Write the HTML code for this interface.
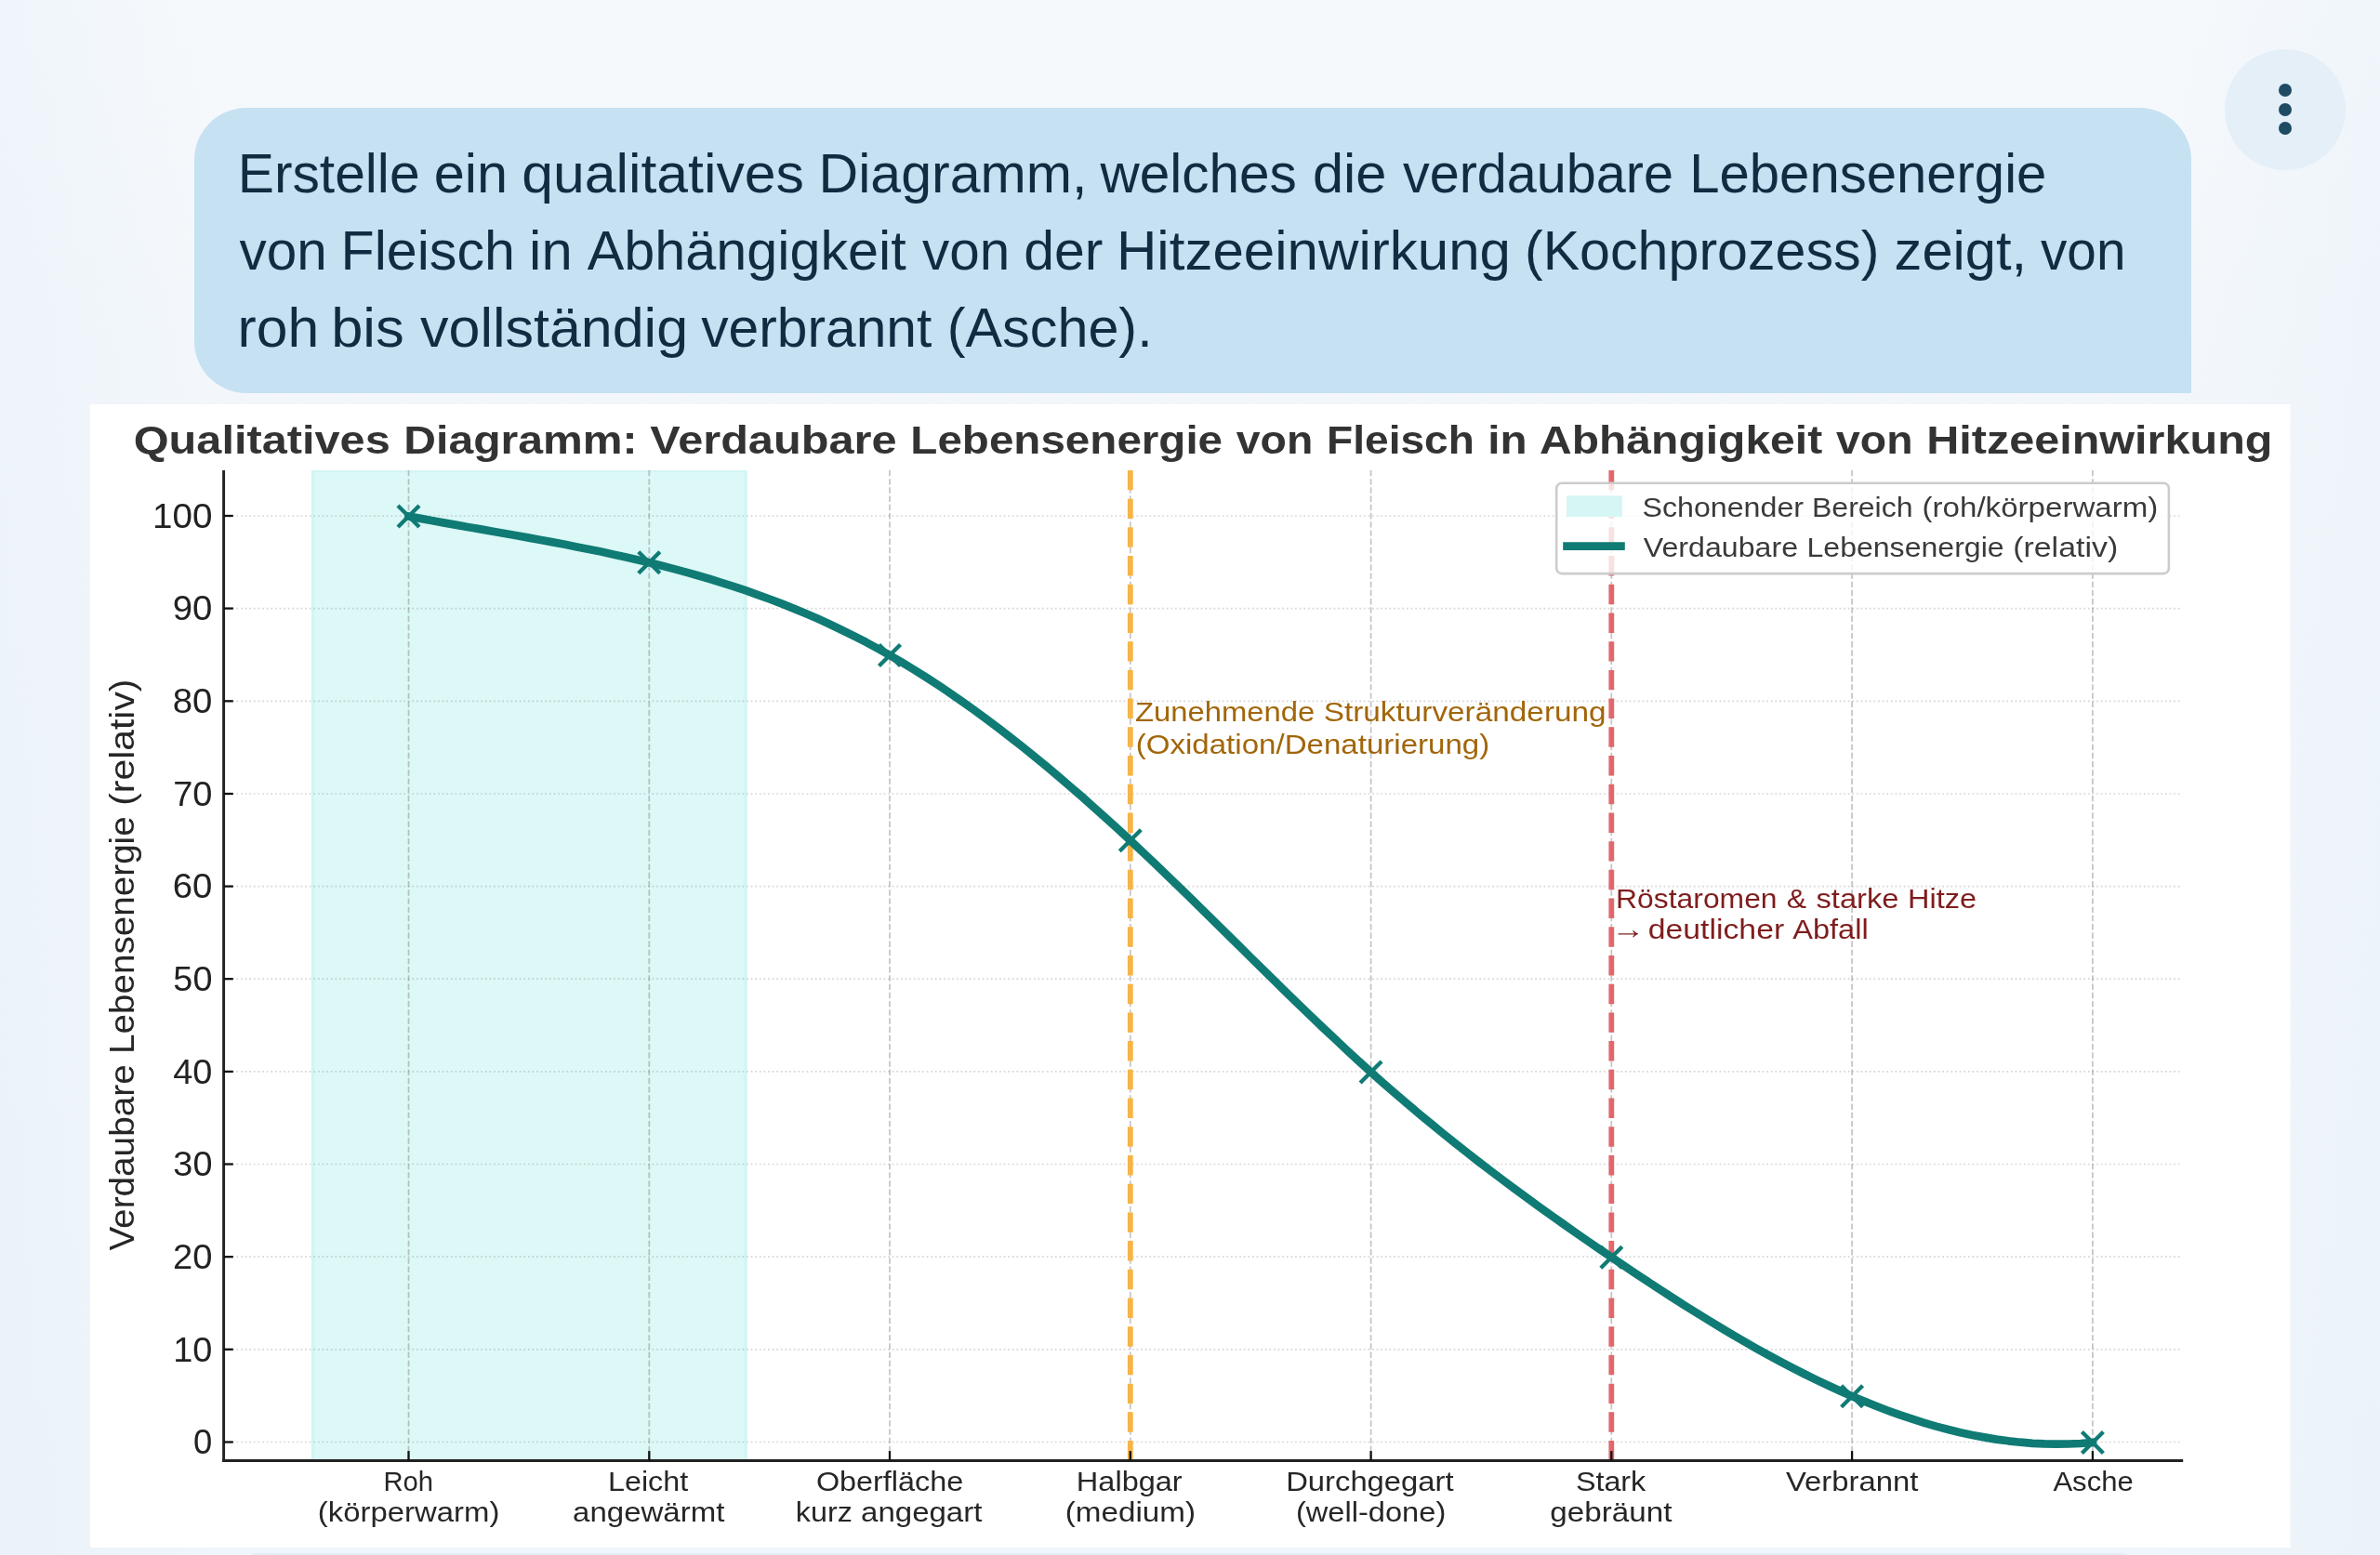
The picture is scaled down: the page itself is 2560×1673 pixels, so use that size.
<!DOCTYPE html>
<html lang="de">
<head>
<meta charset="utf-8">
<title>Chat – Qualitatives Diagramm</title>
<style>
html,body{margin:0;padding:0;}
body{width:2560px;height:1673px;overflow:hidden;position:relative;font-family:"Liberation Sans",sans-serif;
background:#f4f8fc;}
.bg{position:absolute;left:0;top:0;width:2560px;height:1673px;
background:linear-gradient(90deg,rgba(224,237,248,.32) 0,rgba(224,237,248,0) 9%,rgba(224,237,248,0) 91%,rgba(224,237,248,.28) 100%),linear-gradient(180deg,#f6f9fc 0,#f3f7fb 22%,#eff5fa 100%);}
.bubble{position:absolute;left:209px;top:116px;width:2148px;height:307px;background:#c6e1f2;border-radius:56px 56px 0 56px;}
.menu{position:absolute;left:2393px;top:53px;width:130px;height:130px;border-radius:50%;background:#e4eff8;}
.menu i{position:absolute;left:57.7px;width:14.2px;height:14.2px;border-radius:50%;background:#1f4a63;}
.next{position:absolute;left:266px;top:1671px;width:2026px;height:10px;background:#e3eff8;border-radius:10px 10px 0 0;}
svg{position:absolute;left:0;top:0;will-change:transform;}
svg text{font-family:"Liberation Sans",sans-serif;}
</style>
</head>
<body>
<div class="bg"></div>
<div class="bubble"></div>
<div class="menu"><i style="top:37.2px"></i><i style="top:57.8px"></i><i style="top:78.3px"></i></div>
<div class="next"></div>
<svg width="2560" height="1673" viewBox="0 0 2560 1673">
<g id="msg">
<g>
<text x="255.70" y="207.3" font-size="58.80" textLength="195.92" lengthAdjust="spacingAndGlyphs" fill="#112b41">Erstelle</text>
<text x="466.82" y="207.3" font-size="58.80" textLength="79.31" lengthAdjust="spacingAndGlyphs" fill="#112b41">ein</text>
<text x="561.27" y="207.3" font-size="58.80" textLength="303.63" lengthAdjust="spacingAndGlyphs" fill="#112b41">qualitatives</text>
<text x="880.47" y="207.3" font-size="58.80" textLength="289.04" lengthAdjust="spacingAndGlyphs" fill="#112b41">Diagramm,</text>
<text x="1183.50" y="207.3" font-size="58.80" textLength="211.32" lengthAdjust="spacingAndGlyphs" fill="#112b41">welches</text>
<text x="1411.92" y="207.3" font-size="58.80" textLength="79.43" lengthAdjust="spacingAndGlyphs" fill="#112b41">die</text>
<text x="1508.91" y="207.3" font-size="58.80" textLength="291.14" lengthAdjust="spacingAndGlyphs" fill="#112b41">verdaubare</text>
<text x="1817.26" y="207.3" font-size="58.80" textLength="384.07" lengthAdjust="spacingAndGlyphs" fill="#112b41">Lebensenergie</text>
</g>
<g>
<text x="257.51" y="290.2" font-size="58.80" textLength="94.23" lengthAdjust="spacingAndGlyphs" fill="#112b41">von</text>
<text x="366.57" y="290.2" font-size="58.80" textLength="187.33" lengthAdjust="spacingAndGlyphs" fill="#112b41">Fleisch</text>
<text x="569.11" y="290.2" font-size="58.80" textLength="46.58" lengthAdjust="spacingAndGlyphs" fill="#112b41">in</text>
<text x="631.80" y="290.2" font-size="58.80" textLength="342.94" lengthAdjust="spacingAndGlyphs" fill="#112b41">Abhängigkeit</text>
<text x="992.01" y="290.2" font-size="58.80" textLength="94.12" lengthAdjust="spacingAndGlyphs" fill="#112b41">von</text>
<text x="1101.24" y="290.2" font-size="58.80" textLength="85.16" lengthAdjust="spacingAndGlyphs" fill="#112b41">der</text>
<text x="1200.99" y="290.2" font-size="58.80" textLength="424.04" lengthAdjust="spacingAndGlyphs" fill="#112b41">Hitzeeinwirkung</text>
<text x="1639.95" y="290.2" font-size="58.80" textLength="381.42" lengthAdjust="spacingAndGlyphs" fill="#112b41">(Kochprozess)</text>
<text x="2037.61" y="290.2" font-size="58.80" textLength="142.56" lengthAdjust="spacingAndGlyphs" fill="#112b41">zeigt,</text>
<text x="2195.02" y="290.2" font-size="58.80" textLength="91.40" lengthAdjust="spacingAndGlyphs" fill="#112b41">von</text>
</g>
<g>
<text x="255.56" y="372.8" font-size="58.80" textLength="87.60" lengthAdjust="spacingAndGlyphs" fill="#112b41">roh</text>
<text x="356.21" y="372.8" font-size="58.80" textLength="78.54" lengthAdjust="spacingAndGlyphs" fill="#112b41">bis</text>
<text x="452.00" y="372.8" font-size="58.80" textLength="288.08" lengthAdjust="spacingAndGlyphs" fill="#112b41">vollständig</text>
<text x="754.21" y="372.8" font-size="58.80" textLength="248.17" lengthAdjust="spacingAndGlyphs" fill="#112b41">verbrannt</text>
<text x="1018.74" y="372.8" font-size="58.80" textLength="220.89" lengthAdjust="spacingAndGlyphs" fill="#112b41">(Asche).</text>
</g>
</g>
<g id="chart">
<rect x="97" y="435" width="2366.5" height="1230" fill="#ffffff"/>
<rect x="334.9" y="506.0" width="468.7" height="1065.5" fill="#dcf8f7"/>
<rect x="334.9" y="506.0" width="3.2" height="1065.5" fill="#d2f5f3"/>
<rect x="800.4" y="506.0" width="3.2" height="1065.5" fill="#d2f5f3"/>
<rect x="334.9" y="506.0" width="468.7" height="2.2" fill="#d2f5f3"/>
<line x1="240.6" x2="2345.7" y1="1551.5" y2="1551.5" stroke="#808080" stroke-opacity="0.32" stroke-width="1.74" stroke-dasharray="1.74 2.87"/>
<line x1="240.6" x2="2345.7" y1="1451.8" y2="1451.8" stroke="#808080" stroke-opacity="0.32" stroke-width="1.74" stroke-dasharray="1.74 2.87"/>
<line x1="240.6" x2="2345.7" y1="1352.2" y2="1352.2" stroke="#808080" stroke-opacity="0.32" stroke-width="1.74" stroke-dasharray="1.74 2.87"/>
<line x1="240.6" x2="2345.7" y1="1252.5" y2="1252.5" stroke="#808080" stroke-opacity="0.32" stroke-width="1.74" stroke-dasharray="1.74 2.87"/>
<line x1="240.6" x2="2345.7" y1="1152.9" y2="1152.9" stroke="#808080" stroke-opacity="0.32" stroke-width="1.74" stroke-dasharray="1.74 2.87"/>
<line x1="240.6" x2="2345.7" y1="1053.2" y2="1053.2" stroke="#808080" stroke-opacity="0.32" stroke-width="1.74" stroke-dasharray="1.74 2.87"/>
<line x1="240.6" x2="2345.7" y1="953.6" y2="953.6" stroke="#808080" stroke-opacity="0.32" stroke-width="1.74" stroke-dasharray="1.74 2.87"/>
<line x1="240.6" x2="2345.7" y1="854.0" y2="854.0" stroke="#808080" stroke-opacity="0.32" stroke-width="1.74" stroke-dasharray="1.74 2.87"/>
<line x1="240.6" x2="2345.7" y1="754.3" y2="754.3" stroke="#808080" stroke-opacity="0.32" stroke-width="1.74" stroke-dasharray="1.74 2.87"/>
<line x1="240.6" x2="2345.7" y1="654.6" y2="654.6" stroke="#808080" stroke-opacity="0.32" stroke-width="1.74" stroke-dasharray="1.74 2.87"/>
<line x1="240.6" x2="2345.7" y1="555.0" y2="555.0" stroke="#808080" stroke-opacity="0.32" stroke-width="1.74" stroke-dasharray="1.74 2.87"/>
<line x1="439.5" x2="439.5" y1="1571.5" y2="506.0" stroke="#808080" stroke-opacity="0.46" stroke-width="1.74" stroke-dasharray="6.43 2.78"/>
<line x1="698.3" x2="698.3" y1="1571.5" y2="506.0" stroke="#808080" stroke-opacity="0.46" stroke-width="1.74" stroke-dasharray="6.43 2.78"/>
<line x1="957.0" x2="957.0" y1="1571.5" y2="506.0" stroke="#808080" stroke-opacity="0.46" stroke-width="1.74" stroke-dasharray="6.43 2.78"/>
<line x1="1215.8" x2="1215.8" y1="1571.5" y2="506.0" stroke="#808080" stroke-opacity="0.46" stroke-width="1.74" stroke-dasharray="6.43 2.78"/>
<line x1="1474.6" x2="1474.6" y1="1571.5" y2="506.0" stroke="#808080" stroke-opacity="0.46" stroke-width="1.74" stroke-dasharray="6.43 2.78"/>
<line x1="1733.3" x2="1733.3" y1="1571.5" y2="506.0" stroke="#808080" stroke-opacity="0.46" stroke-width="1.74" stroke-dasharray="6.43 2.78"/>
<line x1="1992.1" x2="1992.1" y1="1571.5" y2="506.0" stroke="#808080" stroke-opacity="0.46" stroke-width="1.74" stroke-dasharray="6.43 2.78"/>
<line x1="2250.9" x2="2250.9" y1="1571.5" y2="506.0" stroke="#808080" stroke-opacity="0.46" stroke-width="1.74" stroke-dasharray="6.43 2.78"/>
<line x1="1215.8" x2="1215.8" y1="1571.5" y2="506.0" stroke="#f8b445" stroke-width="5.8" stroke-dasharray="21.44 9.27"/>
<line x1="1733.3" x2="1733.3" y1="1571.5" y2="506.0" stroke="#e2676b" stroke-width="5.8" stroke-dasharray="21.44 9.27"/>
<polyline points="439.5,555.5 452.4,557.9 465.4,560.3 478.3,562.6 491.3,564.9 504.2,567.2 517.1,569.4 530.1,571.7 543.0,574.0 555.9,576.3 568.9,578.6 581.8,581.0 594.8,583.4 607.7,585.8 620.6,588.4 633.6,591.0 646.5,593.6 659.5,596.4 672.4,599.3 685.3,602.2 698.3,605.3 711.2,608.5 724.1,611.9 737.1,615.4 750.0,619.0 763.0,622.8 775.9,626.8 788.8,630.9 801.8,635.2 814.7,639.8 827.7,644.5 840.6,649.4 853.5,654.6 866.5,660.0 879.4,665.6 892.3,671.5 905.3,677.7 918.2,684.1 931.2,690.7 944.1,697.7 957.0,705.0 970.0,712.5 982.9,720.4 995.9,728.5 1008.8,736.9 1021.7,745.6 1034.7,754.6 1047.6,763.8 1060.5,773.3 1073.5,783.0 1086.4,793.0 1099.4,803.2 1112.3,813.6 1125.2,824.2 1138.2,835.1 1151.1,846.2 1164.1,857.4 1177.0,868.9 1189.9,880.5 1202.9,892.3 1215.8,904.3 1228.7,916.4 1241.7,928.7 1254.6,941.1 1267.6,953.6 1280.5,966.2 1293.4,978.9 1306.4,991.7 1319.3,1004.4 1332.3,1017.2 1345.2,1030.0 1358.1,1042.7 1371.1,1055.4 1384.0,1068.1 1396.9,1080.7 1409.9,1093.1 1422.8,1105.5 1435.8,1117.7 1448.7,1129.8 1461.6,1141.7 1474.6,1153.4 1487.5,1164.9 1500.5,1176.2 1513.4,1187.3 1526.3,1198.2 1539.3,1208.9 1552.2,1219.5 1565.1,1229.9 1578.1,1240.1 1591.0,1250.2 1604.0,1260.1 1616.9,1269.9 1629.8,1279.5 1642.8,1289.0 1655.7,1298.4 1668.7,1307.7 1681.6,1316.9 1694.5,1326.0 1707.5,1335.0 1720.4,1343.9 1733.3,1352.7 1746.3,1361.4 1759.2,1370.1 1772.2,1378.7 1785.1,1387.2 1798.0,1395.5 1811.0,1403.8 1823.9,1411.9 1836.9,1419.9 1849.8,1427.8 1862.7,1435.5 1875.7,1443.0 1888.6,1450.4 1901.6,1457.6 1914.5,1464.6 1927.4,1471.4 1940.4,1478.0 1953.3,1484.4 1966.2,1490.5 1979.2,1496.5 1992.1,1502.2 2005.1,1507.6 2018.0,1512.8 2030.9,1517.7 2043.9,1522.4 2056.8,1526.7 2069.8,1530.8 2082.7,1534.6 2095.6,1538.0 2108.6,1541.2 2121.5,1544.0 2134.4,1546.4 2147.4,1548.6 2160.3,1550.3 2173.3,1551.7 2186.2,1552.8 2199.1,1553.4 2212.1,1553.7 2225.0,1553.5 2238.0,1553.0 2250.9,1552.0" fill="none" stroke="#0f7b74" stroke-width="8.7" stroke-linecap="square" stroke-linejoin="round"/>
<path d="M428.0 544.0L451.0 567.0M428.0 567.0L451.0 544.0M686.8 593.8L709.8 616.8M686.8 616.8L709.8 593.8M945.5 693.5L968.5 716.5M945.5 716.5L968.5 693.5M1204.3 892.8L1227.3 915.8M1204.3 915.8L1227.3 892.8M1463.1 1141.9L1486.1 1164.9M1463.1 1164.9L1486.1 1141.9M1721.8 1341.2L1744.8 1364.2M1721.8 1364.2L1744.8 1341.2M1980.6 1490.7L2003.6 1513.7M1980.6 1513.7L2003.6 1490.7M2239.4 1540.5L2262.4 1563.5M2239.4 1563.5L2262.4 1540.5" stroke="#0f7b74" stroke-width="4.3" fill="none"/>
<line x1="240.6" x2="240.6" y1="506.0" y2="1572.95" stroke="#222222" stroke-width="2.9"/>
<line x1="239.15" x2="2348.2" y1="1571.5" y2="1571.5" stroke="#222222" stroke-width="2.9"/>
<line x1="240.6" x2="250.79999999999998" y1="1551.5" y2="1551.5" stroke="#111111" stroke-width="2.3"/>
<line x1="240.6" x2="250.79999999999998" y1="1451.8" y2="1451.8" stroke="#111111" stroke-width="2.3"/>
<line x1="240.6" x2="250.79999999999998" y1="1352.2" y2="1352.2" stroke="#111111" stroke-width="2.3"/>
<line x1="240.6" x2="250.79999999999998" y1="1252.5" y2="1252.5" stroke="#111111" stroke-width="2.3"/>
<line x1="240.6" x2="250.79999999999998" y1="1152.9" y2="1152.9" stroke="#111111" stroke-width="2.3"/>
<line x1="240.6" x2="250.79999999999998" y1="1053.2" y2="1053.2" stroke="#111111" stroke-width="2.3"/>
<line x1="240.6" x2="250.79999999999998" y1="953.6" y2="953.6" stroke="#111111" stroke-width="2.3"/>
<line x1="240.6" x2="250.79999999999998" y1="854.0" y2="854.0" stroke="#111111" stroke-width="2.3"/>
<line x1="240.6" x2="250.79999999999998" y1="754.3" y2="754.3" stroke="#111111" stroke-width="2.3"/>
<line x1="240.6" x2="250.79999999999998" y1="654.6" y2="654.6" stroke="#111111" stroke-width="2.3"/>
<line x1="240.6" x2="250.79999999999998" y1="555.0" y2="555.0" stroke="#111111" stroke-width="2.3"/>
<line x1="439.5" x2="439.5" y1="1571.5" y2="1561.1" stroke="#111111" stroke-width="2.3"/>
<line x1="698.3" x2="698.3" y1="1571.5" y2="1561.1" stroke="#111111" stroke-width="2.3"/>
<line x1="957.0" x2="957.0" y1="1571.5" y2="1561.1" stroke="#111111" stroke-width="2.3"/>
<line x1="1215.8" x2="1215.8" y1="1571.5" y2="1561.1" stroke="#111111" stroke-width="2.3"/>
<line x1="1474.6" x2="1474.6" y1="1571.5" y2="1561.1" stroke="#111111" stroke-width="2.3"/>
<line x1="1733.3" x2="1733.3" y1="1571.5" y2="1561.1" stroke="#111111" stroke-width="2.3"/>
<line x1="1992.1" x2="1992.1" y1="1571.5" y2="1561.1" stroke="#111111" stroke-width="2.3"/>
<line x1="2250.9" x2="2250.9" y1="1571.5" y2="1561.1" stroke="#111111" stroke-width="2.3"/>
<text x="208.06" y="1564.3" font-size="36.18" textLength="20.26" lengthAdjust="spacingAndGlyphs" fill="#222222">0</text>
<text x="186.25" y="1464.6" font-size="36.18" textLength="42.17" lengthAdjust="spacingAndGlyphs" fill="#222222">10</text>
<text x="185.97" y="1365.0" font-size="36.18" textLength="42.45" lengthAdjust="spacingAndGlyphs" fill="#222222">20</text>
<text x="186.37" y="1265.3" font-size="36.18" textLength="42.04" lengthAdjust="spacingAndGlyphs" fill="#222222">30</text>
<text x="186.26" y="1165.7" font-size="36.18" textLength="42.16" lengthAdjust="spacingAndGlyphs" fill="#222222">40</text>
<text x="186.37" y="1066.0" font-size="36.18" textLength="42.04" lengthAdjust="spacingAndGlyphs" fill="#222222">50</text>
<text x="185.79" y="966.4" font-size="36.18" textLength="42.64" lengthAdjust="spacingAndGlyphs" fill="#222222">60</text>
<text x="186.15" y="866.8" font-size="36.18" textLength="42.27" lengthAdjust="spacingAndGlyphs" fill="#222222">70</text>
<text x="185.81" y="767.1" font-size="36.18" textLength="42.62" lengthAdjust="spacingAndGlyphs" fill="#222222">80</text>
<text x="185.81" y="667.4" font-size="36.18" textLength="42.62" lengthAdjust="spacingAndGlyphs" fill="#222222">90</text>
<text x="164.04" y="567.8" font-size="36.18" textLength="64.45" lengthAdjust="spacingAndGlyphs" fill="#222222">100</text>
<text x="412.50" y="1604.0" font-size="30.15" textLength="53.55" lengthAdjust="spacingAndGlyphs" fill="#262626">Roh</text>
<text x="341.82" y="1637.3" font-size="30.15" textLength="195.54" lengthAdjust="spacingAndGlyphs" fill="#262626">(körperwarm)</text>
<text x="654.07" y="1604.0" font-size="30.15" textLength="86.09" lengthAdjust="spacingAndGlyphs" fill="#262626">Leicht</text>
<text x="616.10" y="1637.3" font-size="30.15" textLength="163.25" lengthAdjust="spacingAndGlyphs" fill="#262626">angewärmt</text>
<text x="877.90" y="1604.0" font-size="30.15" textLength="158.33" lengthAdjust="spacingAndGlyphs" fill="#262626">Oberfläche</text>
<g><text x="855.84" y="1637.3" font-size="30.15" textLength="60.95" lengthAdjust="spacingAndGlyphs" fill="#262626">kurz</text><text x="926.04" y="1637.3" font-size="30.15" textLength="130.40" lengthAdjust="spacingAndGlyphs" fill="#262626">angegart</text></g>
<text x="1157.89" y="1604.0" font-size="30.15" textLength="113.80" lengthAdjust="spacingAndGlyphs" fill="#262626">Halbgar</text>
<text x="1145.73" y="1637.3" font-size="30.15" textLength="140.25" lengthAdjust="spacingAndGlyphs" fill="#262626">(medium)</text>
<text x="1383.17" y="1604.0" font-size="30.15" textLength="180.46" lengthAdjust="spacingAndGlyphs" fill="#262626">Durchgegart</text>
<text x="1393.93" y="1637.3" font-size="30.15" textLength="161.34" lengthAdjust="spacingAndGlyphs" fill="#262626">(well-done)</text>
<text x="1694.97" y="1604.0" font-size="30.15" textLength="75.28" lengthAdjust="spacingAndGlyphs" fill="#262626">Stark</text>
<text x="1667.25" y="1637.3" font-size="30.15" textLength="131.13" lengthAdjust="spacingAndGlyphs" fill="#262626">gebräunt</text>
<text x="1920.98" y="1604.0" font-size="30.15" textLength="142.32" lengthAdjust="spacingAndGlyphs" fill="#262626">Verbrannt</text>
<text x="2208.41" y="1604.0" font-size="30.15" textLength="86.34" lengthAdjust="spacingAndGlyphs" fill="#262626">Asche</text>
<g><text x="143.75" y="488.0" font-size="42.21" textLength="275.99" lengthAdjust="spacingAndGlyphs" fill="#333333" font-weight="bold">Qualitatives</text><text x="434.33" y="488.0" font-size="42.21" textLength="251.28" lengthAdjust="spacingAndGlyphs" fill="#333333" font-weight="bold">Diagramm:</text><text x="699.39" y="488.0" font-size="42.21" textLength="265.10" lengthAdjust="spacingAndGlyphs" fill="#333333" font-weight="bold">Verdaubare</text><text x="979.35" y="488.0" font-size="42.21" textLength="335.73" lengthAdjust="spacingAndGlyphs" fill="#333333" font-weight="bold">Lebensenergie</text><text x="1329.75" y="488.0" font-size="42.21" textLength="82.46" lengthAdjust="spacingAndGlyphs" fill="#333333" font-weight="bold">von</text><text x="1427.10" y="488.0" font-size="42.21" textLength="158.76" lengthAdjust="spacingAndGlyphs" fill="#333333" font-weight="bold">Fleisch</text><text x="1600.36" y="488.0" font-size="42.21" textLength="42.35" lengthAdjust="spacingAndGlyphs" fill="#333333" font-weight="bold">in</text><text x="1656.03" y="488.0" font-size="42.21" textLength="304.15" lengthAdjust="spacingAndGlyphs" fill="#333333" font-weight="bold">Abhängigkeit</text><text x="1975.01" y="488.0" font-size="42.21" textLength="82.46" lengthAdjust="spacingAndGlyphs" fill="#333333" font-weight="bold">von</text><text x="2072.20" y="488.0" font-size="42.21" textLength="372.26" lengthAdjust="spacingAndGlyphs" fill="#333333" font-weight="bold">Hitzeeinwirkung</text></g>
<g transform="translate(143.6,1345.4) rotate(-90)"><g><text x="-0.19" y="0.0" font-size="36.18" textLength="200.27" lengthAdjust="spacingAndGlyphs" fill="#262626">Verdaubare</text><text x="211.46" y="0.0" font-size="36.18" textLength="255.64" lengthAdjust="spacingAndGlyphs" fill="#262626">Lebensenergie</text><text x="478.63" y="0.0" font-size="36.18" textLength="136.26" lengthAdjust="spacingAndGlyphs" fill="#262626">(relativ)</text></g></g>
<g><text x="1220.92" y="776.0" font-size="30.15" textLength="193.28" lengthAdjust="spacingAndGlyphs" fill="#a1660a">Zunehmende</text><text x="1423.66" y="776.0" font-size="30.15" textLength="304.00" lengthAdjust="spacingAndGlyphs" fill="#a1660a">Strukturveränderung</text></g>
<text x="1221.72" y="810.6" font-size="30.15" textLength="380.51" lengthAdjust="spacingAndGlyphs" fill="#a1660a">(Oxidation/Denaturierung)</text>
<g><text x="1738.05" y="976.6" font-size="30.15" textLength="173.53" lengthAdjust="spacingAndGlyphs" fill="#7f1d1d">Röstaromen</text><text x="1921.79" y="976.6" font-size="30.15" textLength="21.36" lengthAdjust="spacingAndGlyphs" fill="#7f1d1d">&amp;</text><text x="1953.43" y="976.6" font-size="30.15" textLength="89.16" lengthAdjust="spacingAndGlyphs" fill="#7f1d1d">starke</text><text x="2051.99" y="976.6" font-size="30.15" textLength="73.97" lengthAdjust="spacingAndGlyphs" fill="#7f1d1d">Hitze</text></g>
<g><text x="1733.20" y="1010.0" font-size="30.15" textLength="36.12" lengthAdjust="spacingAndGlyphs" fill="#7f1d1d">→</text><text x="1772.76" y="1010.0" font-size="30.15" textLength="146.43" lengthAdjust="spacingAndGlyphs" fill="#7f1d1d">deutlicher</text><text x="1928.21" y="1010.0" font-size="30.15" textLength="81.47" lengthAdjust="spacingAndGlyphs" fill="#7f1d1d">Abfall</text></g>
<rect x="1674.2" y="519.7" width="658.7" height="97.4" rx="5.8" fill="#ffffff" fill-opacity="0.8" stroke="#cccccc" stroke-width="2.6"/>
<rect x="1685" y="533.3" width="60" height="22.8" fill="#d6f6f5"/>
<line x1="1681.2" x2="1747.8" y1="587.7" y2="587.7" stroke="#0f7b74" stroke-width="8.7"/>
<g><text x="1766.55" y="555.5" font-size="30.15" textLength="173.44" lengthAdjust="spacingAndGlyphs" fill="#3a3a3a">Schonender</text><text x="1948.94" y="555.5" font-size="30.15" textLength="108.65" lengthAdjust="spacingAndGlyphs" fill="#3a3a3a">Bereich</text><text x="2067.56" y="555.5" font-size="30.15" textLength="253.80" lengthAdjust="spacingAndGlyphs" fill="#3a3a3a">(roh/körperwarm)</text></g>
<g><text x="1767.84" y="598.6" font-size="30.15" textLength="166.19" lengthAdjust="spacingAndGlyphs" fill="#3a3a3a">Verdaubare</text><text x="1943.47" y="598.6" font-size="30.15" textLength="212.14" lengthAdjust="spacingAndGlyphs" fill="#3a3a3a">Lebensenergie</text><text x="2165.18" y="598.6" font-size="30.15" textLength="113.07" lengthAdjust="spacingAndGlyphs" fill="#3a3a3a">(relativ)</text></g>
</g>
</svg>
</body>
</html>
